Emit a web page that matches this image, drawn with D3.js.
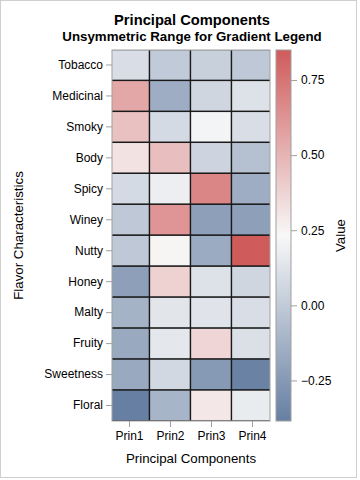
<!DOCTYPE html>
<html><head><meta charset="utf-8">
<script src="https://cdn.jsdelivr.net/npm/d3@7"></script>
<style>body{margin:0;background:#fff}svg{display:block;font-family:"Liberation Sans",Arial,sans-serif}</style>
</head><body>
<script>
const flavors = ["Tobacco","Medicinal","Smoky","Body","Spicy","Winey","Nutty","Honey","Malty","Fruity","Sweetness","Floral"];
const components = ["Prin1","Prin2","Prin3","Prin4"];
const prin1 = [0.10, 0.55, 0.45, 0.32, 0.08, -0.01, -0.01, -0.22, -0.12, -0.17, -0.17, -0.385];
const prin2 = [0.00, -0.15, 0.08, 0.46, 0.18, 0.62, 0.25, 0.38, 0.14, 0.15, 0.07, -0.11];
const prin3 = [0.03, 0.06, 0.21, 0.05, 0.68, -0.22, -0.16, 0.12, 0.13, 0.37, -0.25, 0.30];
const prin4 = [-0.01, 0.12, 0.10, -0.05, -0.15, -0.22, 0.85, 0.06, 0.10, 0.11, -0.37, 0.17];
const legendTicks = [-0.25, 0, 0.25, 0.5, 0.75];

const series = [prin1, prin2, prin3, prin4];
const cells = [];
flavors.forEach((f, i) => components.forEach((c, j) => cells.push({f, c, v: series[j][i]})));
const all = cells.map(d => d.v);
const [vmin, vmax] = d3.extent(all);
const vmid = (vmin + vmax) / 2;

const W = 360, H = 480;
const svg = d3.select("body").append("svg").attr("width", W).attr("height", H);
svg.append("rect").attr("x",0.5).attr("y",0.5).attr("width",356).attr("height",477).attr("fill","#fff").attr("stroke","#cfcfcf");

const px0 = 112, px1 = 270, py0 = 50, py1 = 421;
const x = d3.scalePoint().domain(components).range([129, 252]);
const cw = x.step();
const y = d3.scaleBand().domain(flavors).range([49.5, 421]);
const color = d3.scaleLinear().domain([vmin, vmid, vmax]).range(["#667FA2", "#F8F8F8", "#D05B5B"]).interpolate(d3.interpolateRgb);

svg.append("clipPath").attr("id","clip").append("rect").attr("x",px0).attr("y",py0).attr("width",px1-px0).attr("height",py1-py0);
const g = svg.append("g").attr("clip-path","url(#clip)");
g.selectAll("rect").data(cells).join("rect")
  .attr("x", d => x(d.c) - cw/2).attr("y", d => y(d.f))
  .attr("width", cw).attr("height", y.bandwidth())
  .attr("fill", d => color(d.v)).attr("stroke", "#1a1a1a").attr("stroke-width", 1.3);
svg.append("rect").attr("x",px0).attr("y",py0).attr("width",px1-px0).attr("height",py1-py0)
  .attr("fill","none").attr("stroke","#a0a0a0");

// axes
const yAxis = svg.append("g").attr("transform",`translate(${px0},0)`)
  .call(d3.axisLeft(y).tickSize(6).tickPadding(3));
const xAxis = svg.append("g").attr("transform",`translate(0,${py1})`)
  .call(d3.axisBottom(x).tickSize(6).tickPadding(4));
[yAxis, xAxis].forEach(a => {
  a.select(".domain").remove();
  a.selectAll("line").attr("stroke","#a0a0a0");
  a.selectAll("text").attr("font-size",12).attr("fill","#000").attr("font-family","Liberation Sans, Arial, sans-serif");
});

// legend
const lx = 276, lw = 15;
const ly = d3.scaleLinear().domain([vmin, vmax]).range([py1, py0]);
const grad = svg.append("defs").append("linearGradient").attr("id","lg")
  .attr("x1",0).attr("y1",1).attr("x2",0).attr("y2",0);
[vmin, vmid, vmax].forEach((v, i) => grad.append("stop").attr("offset", i/2).attr("stop-color", color(v)));
svg.append("rect").attr("x",lx).attr("y",py0).attr("width",lw).attr("height",py1-py0)
  .attr("fill","url(#lg)").attr("stroke","#a0a0a0");
const lAxis = svg.append("g").attr("transform",`translate(${lx+lw},0)`)
  .call(d3.axisRight(ly).tickValues(legendTicks).tickFormat(d3.format(".2f")).tickSize(6).tickPadding(4));
lAxis.select(".domain").remove();
lAxis.selectAll("line").attr("stroke","#a0a0a0");
lAxis.selectAll("text").attr("font-size",12).attr("fill","#000").attr("font-family","Liberation Sans, Arial, sans-serif");

// titles
svg.append("text").attr("x",192).attr("y",25).attr("text-anchor","middle")
  .attr("font-size",14.7).attr("font-weight","bold").text("Principal Components");
svg.append("text").attr("x",192).attr("y",41).attr("text-anchor","middle")
  .attr("font-size",13.3).attr("font-weight","bold").text("Unsymmetric Range for Gradient Legend");
svg.append("text").attr("x",191).attr("y",463).attr("text-anchor","middle")
  .attr("font-size",13.3).text("Principal Components");
svg.append("text").attr("transform",`translate(23,${(py0+py1)/2}) rotate(-90)`).attr("text-anchor","middle")
  .attr("font-size",13.3).text("Flavor Characteristics");
svg.append("text").attr("transform",`translate(345,${(py0+py1)/2}) rotate(-90)`).attr("text-anchor","middle")
  .attr("font-size",13.3).text("Value");
</script>
</body></html>
